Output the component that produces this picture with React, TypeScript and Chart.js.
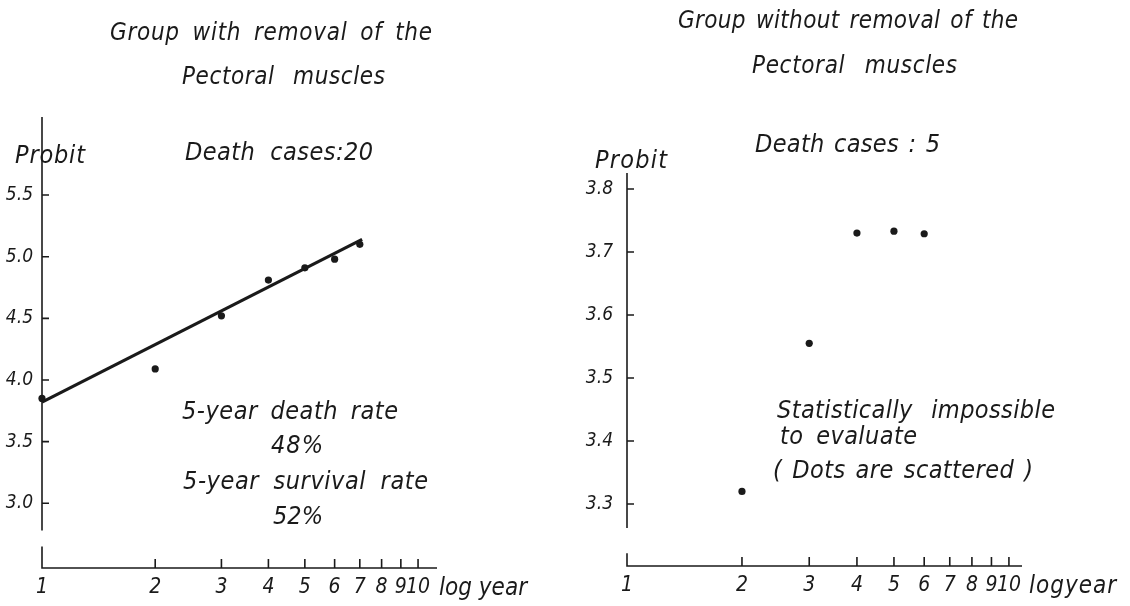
import React, { useEffect, useRef } from 'react';
import { Chart, registerables } from 'chart.js';

Chart.register(...registerables);

const FONT = "'Liberation Sans Narrow', 'DejaVu Sans Condensed', 'Liberation Sans', sans-serif";
const INK = '#1a1a1a';

// ---- data: left panel (with removal of the pectoral muscles) ----
const leftYears = [1, 2, 3, 4, 5, 6, 7];
const leftProbits = [3.85, 4.09, 4.52, 4.81, 4.91, 4.98, 5.1];
const leftFitYears = [1, 7.1];
const leftFitProbits = [3.82, 5.14];
const leftYTicks = [3.0, 3.5, 4.0, 4.5, 5.0, 5.5];

// ---- data: right panel (without removal) ----
const rightYears = [2, 3, 4, 5, 6];
const rightProbits = [3.32, 3.555, 3.73, 3.733, 3.729];
const rightYTicks = [3.3, 3.4, 3.5, 3.6, 3.7, 3.8];

// shared log-year ticks
const xTickYears = [1, 2, 3, 4, 5, 6, 7, 8, 9, 10];

type TextItem = { t: string; x0: number; x1: number; base: number; size: number };

type Panel = {
  left: number;
  width: number;
  padTop: number;
  padRight: number;
  yWidth: number;
  xHeight: number;
  yMin: number;
  yMax: number;
  xMax: number;
  yAxisEnd: number;
  stubTop: number;
  yTicks: number[];
  yLabelPad: number;
  datasets: any[];
  texts: TextItem[];
};

function drawFit(ctx: CanvasRenderingContext2D, it: TextItem, offX: number) {
  ctx.font = `italic ${it.size}px ${FONT}`;
  const c: any = ctx;
  c.letterSpacing = '0px';
  c.wordSpacing = '0px';
  const w = ctx.measureText(it.t).width;
  const chars = Array.from(it.t);
  const n = chars.length;
  const spaces = chars.filter((ch) => ch === ' ').length;
  const target = it.x1 - it.x0;
  const diff = target - w;
  let ls = 0;
  let ws = 0;
  if (n > 1) {
    if (spaces > 0 && diff > 0) {
      ls = (diff * 0.45) / (n - 1);
      ws = (diff * 0.55) / spaces;
    } else {
      ls = diff / (n - 1);
    }
  }
  c.letterSpacing = `${ls}px`;
  c.wordSpacing = `${ws}px`;
  ctx.textAlign = 'left';
  ctx.textBaseline = 'alphabetic';
  ctx.fillStyle = INK;
  ctx.fillText(it.t, it.x0 - offX, it.base);
  c.letterSpacing = '0px';
  c.wordSpacing = '0px';
}

function makeDecor(p: Panel) {
  return {
    id: 'decor',
    beforeDatasetsDraw(chart: any) {
      const { ctx, chartArea: a } = chart;
      const x = chart.scales.x;
      const y = chart.scales.y;
      ctx.save();
      ctx.strokeStyle = INK;
      ctx.lineWidth = 1.6;
      // y axis (broken at the bottom)
      ctx.beginPath();
      ctx.moveTo(a.left, a.top);
      ctx.lineTo(a.left, y.getPixelForValue(p.yAxisEnd));
      ctx.stroke();
      // y tick marks (inside)
      ctx.beginPath();
      for (const v of p.yTicks) {
        const py = y.getPixelForValue(v);
        ctx.moveTo(a.left, py);
        ctx.lineTo(a.left + 7, py);
      }
      ctx.stroke();
      // x axis with the small stub
      ctx.beginPath();
      ctx.moveTo(a.left, y.getPixelForValue(p.stubTop));
      ctx.lineTo(a.left, a.bottom);
      ctx.lineTo(a.right, a.bottom);
      ctx.stroke();
      // x tick marks (upwards)
      ctx.beginPath();
      for (const v of xTickYears) {
        if (v === 1) continue;
        const px = x.getPixelForValue(v);
        ctx.moveTo(px, a.bottom);
        ctx.lineTo(px, a.bottom - 9);
      }
      ctx.stroke();
      ctx.restore();
    },
    afterDraw(chart: any) {
      const ctx = chart.ctx;
      ctx.save();
      for (const it of p.texts) drawFit(ctx, it, p.left);
      ctx.restore();
    },
  };
}

function PanelChart({ p }: { p: Panel }) {
  const ref = useRef<HTMLCanvasElement | null>(null);
  useEffect(() => {
    if (!ref.current) return;
    const chart = new Chart(ref.current, {
      type: 'scatter',
      data: { datasets: p.datasets },
      options: {
        responsive: false,
        animation: false,
        devicePixelRatio: 1,
        layout: {
          autoPadding: false,
          padding: { top: p.padTop, right: p.padRight, bottom: 0, left: 0 },
        },
        plugins: { legend: { display: false }, tooltip: { enabled: false }, title: { display: false } },
        scales: {
          x: {
            type: 'logarithmic',
            min: 1,
            max: p.xMax,
            border: { display: false },
            grid: { display: false, drawTicks: false },
            afterBuildTicks: (s: any) => {
              s.ticks = xTickYears.map((v) => ({ value: v }));
            },
            afterFit: (s: any) => {
              s.height = p.xHeight;
            },
            ticks: {
              autoSkip: false,
              maxRotation: 0,
              padding: 7,
              color: INK,
              font: { family: FONT, size: 21, style: 'italic' },
              callback: (v: any) => String(v),
            },
          },
          y: {
            type: 'linear',
            min: p.yMin,
            max: p.yMax,
            border: { display: false },
            grid: { display: false, drawTicks: false },
            afterBuildTicks: (s: any) => {
              s.ticks = p.yTicks.map((v) => ({ value: v }));
            },
            afterFit: (s: any) => {
              s.width = p.yWidth;
            },
            ticks: {
              autoSkip: false,
              padding: p.yLabelPad,
              color: INK,
              font: { family: FONT, size: 19, style: 'italic' },
              callback: (v: any) => Number(v).toFixed(1),
            },
          },
        },
      } as any,
      plugins: [makeDecor(p)],
    });
    return () => chart.destroy();
  }, [p]);
  return (
    <canvas
      ref={ref}
      width={p.width}
      height={606}
      style={{ position: 'absolute', left: p.left, top: 0, width: p.width, height: 606 }}
    />
  );
}

const dot = {
  pointRadius: 3.6,
  pointBackgroundColor: INK,
  pointBorderColor: INK,
  pointBorderWidth: 0,
  showLine: false,
  clip: false,
};

const leftPanel: Panel = {
  left: 0,
  width: 560,
  padTop: 117,
  padRight: 123,
  yWidth: 42,
  xHeight: 38,
  yMin: 2.475,
  yMax: 6.133,
  xMax: 11.23,
  yAxisEnd: 2.78,
  stubTop: 2.65,
  yTicks: leftYTicks,
  yLabelPad: 9,
  datasets: [
    {
      type: 'line',
      data: leftFitYears.map((x, i) => ({ x, y: leftFitProbits[i] })),
      borderColor: INK,
      borderWidth: 3.2,
      pointRadius: 0,
      showLine: true,
      fill: false,
      clip: false,
    },
    { data: leftYears.map((x, i) => ({ x, y: leftProbits[i] })), ...dot },
  ],
  texts: [
    { t: 'Group with removal of the', x0: 110, x1: 432, base: 40, size: 24 },
    { t: 'Pectoral muscles', x0: 182, x1: 385, base: 84, size: 24 },
    { t: 'Probit', x0: 15, x1: 85, base: 163, size: 25 },
    { t: 'Death cases:20', x0: 185, x1: 373, base: 160, size: 25 },
    { t: '5-year death rate', x0: 182, x1: 398, base: 419, size: 25 },
    { t: '48%', x0: 271, x1: 323, base: 453, size: 25 },
    { t: '5-year survival rate', x0: 183, x1: 428, base: 489, size: 25 },
    { t: '52%', x0: 273, x1: 323, base: 524, size: 25 },
    { t: 'log year', x0: 439, x1: 527, base: 595, size: 24 },
  ],
};

const rightPanel: Panel = {
  left: 560,
  width: 570,
  padTop: 173,
  padRight: 108,
  yWidth: 67,
  xHeight: 40,
  yMin: 3.2016,
  yMax: 3.8254,
  xMax: 10.82,
  yAxisEnd: 3.262,
  stubTop: 3.222,
  yTicks: rightYTicks,
  yLabelPad: 14,
  datasets: [{ data: rightYears.map((x, i) => ({ x, y: rightProbits[i] })), ...dot }],
  texts: [
    { t: 'Group without removal of the', x0: 678, x1: 1018, base: 28, size: 24 },
    { t: 'Pectoral muscles', x0: 752, x1: 957, base: 73, size: 24 },
    { t: 'Probit', x0: 595, x1: 667, base: 168, size: 25 },
    { t: 'Death cases : 5', x0: 755, x1: 940, base: 152, size: 25 },
    { t: 'Statistically impossible', x0: 777, x1: 1055, base: 418, size: 25 },
    { t: 'to evaluate', x0: 780, x1: 917, base: 444, size: 25 },
    { t: '( Dots are scattered )', x0: 773, x1: 1033, base: 478, size: 25 },
    { t: 'logyear', x0: 1029, x1: 1116, base: 593, size: 24 },
  ],
};

export default function App() {
  return (
    <div
      style={{
        position: 'fixed',
        left: 0,
        top: 0,
        width: 1130,
        height: 606,
        background: '#ffffff',
        overflow: 'hidden',
      }}
    >
      <PanelChart p={leftPanel} />
      <PanelChart p={rightPanel} />
    </div>
  );
}
